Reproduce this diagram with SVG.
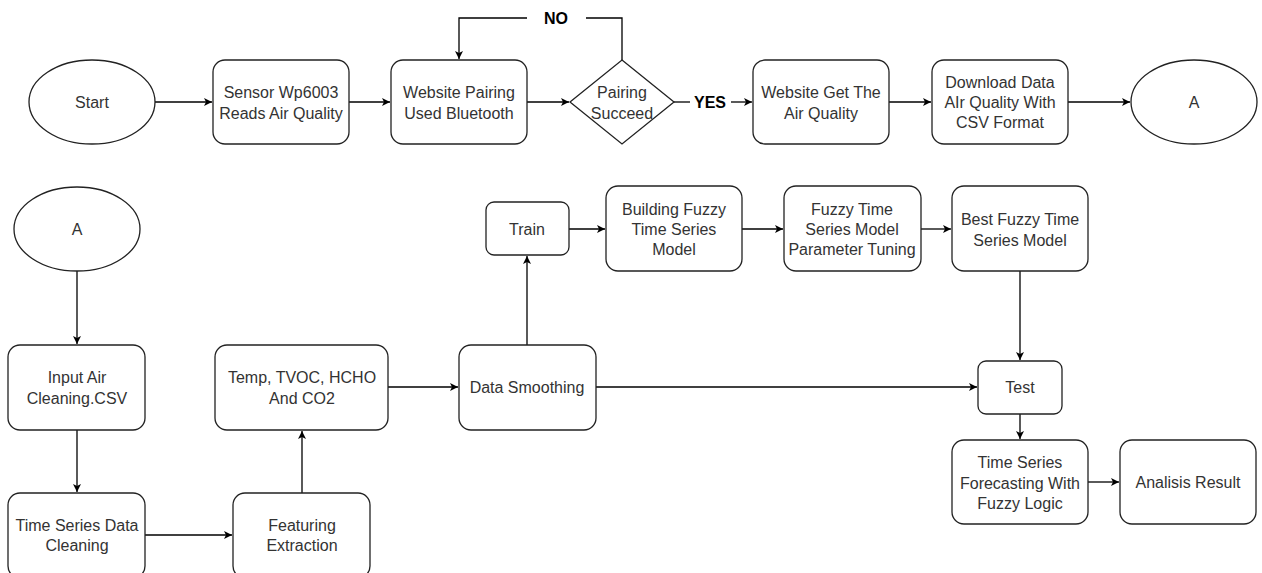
<svg xmlns="http://www.w3.org/2000/svg" width="1262" height="573" viewBox="0 0 1262 573">
<defs>
<marker id="arr" markerUnits="userSpaceOnUse" markerWidth="10" markerHeight="10" refX="8" refY="4" orient="auto">
<path d="M0,0 L8,4 L0,8 L2,4 z" fill="#000"/>
</marker>
<style>
.s{fill:#fff;stroke:#222;stroke-width:1.3}
.t{font-family:"Liberation Sans",Arial,sans-serif;font-size:16px;fill:#333;text-anchor:middle;dominant-baseline:central}
.b{font-family:"Liberation Sans",Arial,sans-serif;font-size:16px;font-weight:bold;fill:#000;text-anchor:middle;dominant-baseline:central}
.c{fill:none;stroke:#000;stroke-width:1.3}
.a{marker-end:url(#arr)}
</style>
</defs>
<rect width="1262" height="573" fill="#fff"/>
<g id="connectors">
<path class="c a" d="M155,102 H212"/>
<path class="c a" d="M349,102 H390"/>
<path class="c a" d="M527,102 H569"/>
<path class="c" d="M622,60 V18 H586"/>
<path class="c a" d="M527,18 H459 V59"/>
<text class="b" x="556" y="18">NO</text>
<path class="c" d="M674,102 H690"/>
<path class="c a" d="M731,102 H752"/>
<text class="b" x="710" y="102">YES</text>
<path class="c a" d="M889,102 H931"/>
<path class="c a" d="M1068,102 H1130"/>
<path class="c a" d="M77,271 V344"/>
<path class="c a" d="M77,430 V492"/>
<path class="c a" d="M145,535 H232"/>
<path class="c a" d="M302,493 V431"/>
<path class="c a" d="M388,387 H458"/>
<path class="c a" d="M527,345 V256"/>
<path class="c a" d="M569,229 H605"/>
<path class="c a" d="M742,229 H783"/>
<path class="c a" d="M921,229 H951"/>
<path class="c a" d="M1020,271 V360"/>
<path class="c a" d="M596,387 H977"/>
<path class="c a" d="M1020,414 V439"/>
<path class="c a" d="M1088,482 H1119"/>
</g>
<g id="start"><ellipse class="s" cx="92" cy="102" rx="63" ry="42"/><text class="t" x="92" y="102">Start</text></g>
<g id="sensor"><rect class="s" x="213" y="60" width="136" height="84" rx="12"/><text class="t" x="281" y="92">Sensor Wp6003</text><text class="t" x="281" y="113">Reads Air Quality</text></g>
<g id="pairing"><rect class="s" x="391" y="60" width="136" height="84" rx="12"/><text class="t" x="459" y="92">Website Pairing</text><text class="t" x="459" y="113">Used Bluetooth</text></g>
<g id="decision"><path class="s" d="M622,60 L674,102 L622,144 L570,102 Z"/><text class="t" x="622" y="92">Pairing</text><text class="t" x="622" y="113">Succeed</text></g>
<g id="getquality"><rect class="s" x="753" y="60" width="136" height="84" rx="12"/><text class="t" x="821" y="92">Website Get The</text><text class="t" x="821" y="113">Air Quality</text></g>
<g id="download"><rect class="s" x="932" y="60" width="136" height="84" rx="12"/><text class="t" x="1000" y="82">Download Data</text><text class="t" x="1000" y="102">AIr Quality With</text><text class="t" x="1000" y="122">CSV Format</text></g>
<g id="a-top"><ellipse class="s" cx="1194" cy="102" rx="63" ry="42"/><text class="t" x="1194" y="102">A</text></g>
<g id="a-bottom"><ellipse class="s" cx="77" cy="229" rx="63" ry="42"/><text class="t" x="77" y="229">A</text></g>
<g id="input"><rect class="s" x="8" y="345" width="137" height="85" rx="12"/><text class="t" x="77" y="377">Input Air</text><text class="t" x="77" y="398">Cleaning.CSV</text></g>
<g id="cleaning"><rect class="s" x="8" y="493" width="137" height="85" rx="12"/><text class="t" x="77" y="525">Time Series Data</text><text class="t" x="77" y="545">Cleaning</text></g>
<g id="feature"><rect class="s" x="233" y="493" width="137" height="85" rx="12"/><text class="t" x="302" y="525">Featuring</text><text class="t" x="302" y="545">Extraction</text></g>
<g id="params"><rect class="s" x="215" y="345" width="173" height="85" rx="12"/><text class="t" x="302" y="377">Temp, TVOC, HCHO</text><text class="t" x="302" y="398">And CO2</text></g>
<g id="smoothing"><rect class="s" x="459" y="345" width="137" height="85" rx="12"/><text class="t" x="527" y="387">Data Smoothing</text></g>
<g id="train"><rect class="s" x="486" y="202" width="83" height="53" rx="8"/><text class="t" x="527" y="229">Train</text></g>
<g id="building"><rect class="s" x="606" y="186" width="136" height="85" rx="12"/><text class="t" x="674" y="209">Building Fuzzy</text><text class="t" x="674" y="229">Time Series</text><text class="t" x="674" y="249">Model</text></g>
<g id="tuning"><rect class="s" x="784" y="186" width="137" height="85" rx="12"/><text class="t" x="852" y="209">Fuzzy Time</text><text class="t" x="852" y="229">Series Model</text><text class="t" x="852" y="249">Parameter Tuning</text></g>
<g id="best"><rect class="s" x="952" y="186" width="136" height="85" rx="12"/><text class="t" x="1020" y="219">Best Fuzzy Time</text><text class="t" x="1020" y="240">Series Model</text></g>
<g id="test"><rect class="s" x="978" y="361" width="84" height="53" rx="8"/><text class="t" x="1020" y="387">Test</text></g>
<g id="forecast"><rect class="s" x="952" y="440" width="136" height="84" rx="12"/><text class="t" x="1020" y="462">Time Series</text><text class="t" x="1020" y="483">Forecasting With</text><text class="t" x="1020" y="503">Fuzzy Logic</text></g>
<g id="result"><rect class="s" x="1120" y="440" width="136" height="84" rx="12"/><text class="t" x="1188" y="482">Analisis Result</text></g>
</svg>
